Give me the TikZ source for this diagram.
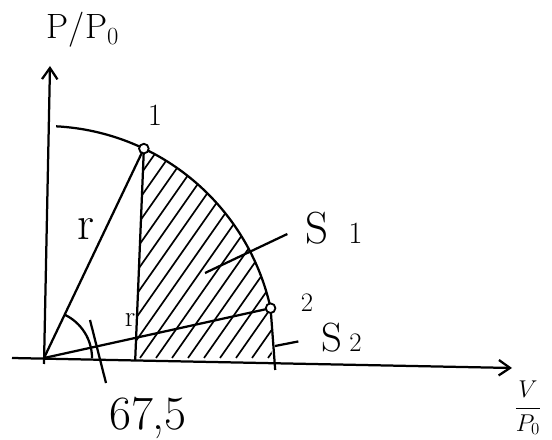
\documentclass[tikz,border=0pt]{standalone}
\usetikzlibrary{arrows.meta}
\begin{document}
\begin{tikzpicture}[line width=1.6pt, >={Straight Barb[length=8pt,width=11pt]}]
    \useasboundingbox (-1.1,-2.05) rectangle (12.7,8.95);
    \coordinate (O) at (0,0);
    \coordinate (P1) at (64.5:5.8);
    \coordinate (P2) at (12.4:5.8);
    \coordinate (F1) at (2.28,-0.05);
    \coordinate (F2) at (5.78,-0.3);

    % Axes
    \draw[->] (-0.8,0) -- (11.7,-0.25) coordinate (xend);
    \draw[->] (0,-0.15) -- (0.15,7.3) coordinate (yend);
    \node (ylab) at (0.975,8.2) {\fontsize{25}{28}\selectfont P/P\textsubscript{0}};
    \node (xlab) at (12.1,-1.25) {\LARGE $\displaystyle\frac{V}{P_0}$};

    % Hatched area
    \begin{scope}
        \clip (F1) -- (P1) arc[start angle=64.5, end angle=12.4, radius=5.8] -- (5.7,-0.12) -- cycle;
        \foreach \s in {-1.6,-1.2,...,5.7}
            \draw[line width=1.2pt] (\s,0) -- ++(55:8);
    \end{scope}

    % Circle arc r
    \draw (87:5.8) arc[start angle=87, end angle=12.4, radius=5.8];
    \draw (O) -- (P1);
    \draw (O) -- (P2);
    \draw (P1) -- (F1);
    \draw (P2) -- (F2);
    \node (r1) at (1.05,3.225) {\fontsize{34}{36}\selectfont r};
    \node (r2) at (2.15,0.95) {\fontsize{21}{24}\selectfont r};

    % Angle
    \draw (1.2,0) arc[start angle=0, end angle=64.5, radius=1.2];
    \node (ang) at (2.6,-1.5) {\fontsize{34}{38}\selectfont 67,5};
    \coordinate (angtip) at (1.15,0.95);
    \coordinate (angend) at (1.55,-0.625);
    \draw (angtip) -- (angend);

    % Points 1 and 2
    \filldraw[fill=white, line width=1.3pt] (P1) circle (0.12);
    \filldraw[fill=white, line width=1.3pt] (P2) circle (0.12);
    \node (n1) at (2.775,6.075) {\fontsize{22}{24}\selectfont 1};
    \node (n2) at (6.575,1.375) {\fontsize{19}{22}\selectfont 2};

    % Areas S1 and S2
    \node[anchor=west] (s1) at (6.4,3.25) {\fontsize{32}{36}\selectfont S\hspace{14pt}\fontsize{22}{26}\selectfont 1};
    \coordinate (s1tip) at (4.025,2.125);
    \draw (s1tip) -- (s1.west) [shorten >=0.35cm];
    \node[anchor=west] (s2) at (6.8,0.5) {\fontsize{29}{32}\selectfont S\,\fontsize{19}{22}\selectfont 2};
    \coordinate (s2tip) at (5.775,0.3);
    \draw (s2tip) -- (s2.west) [shorten >=0.45cm];
\end{tikzpicture}
\end{document}
